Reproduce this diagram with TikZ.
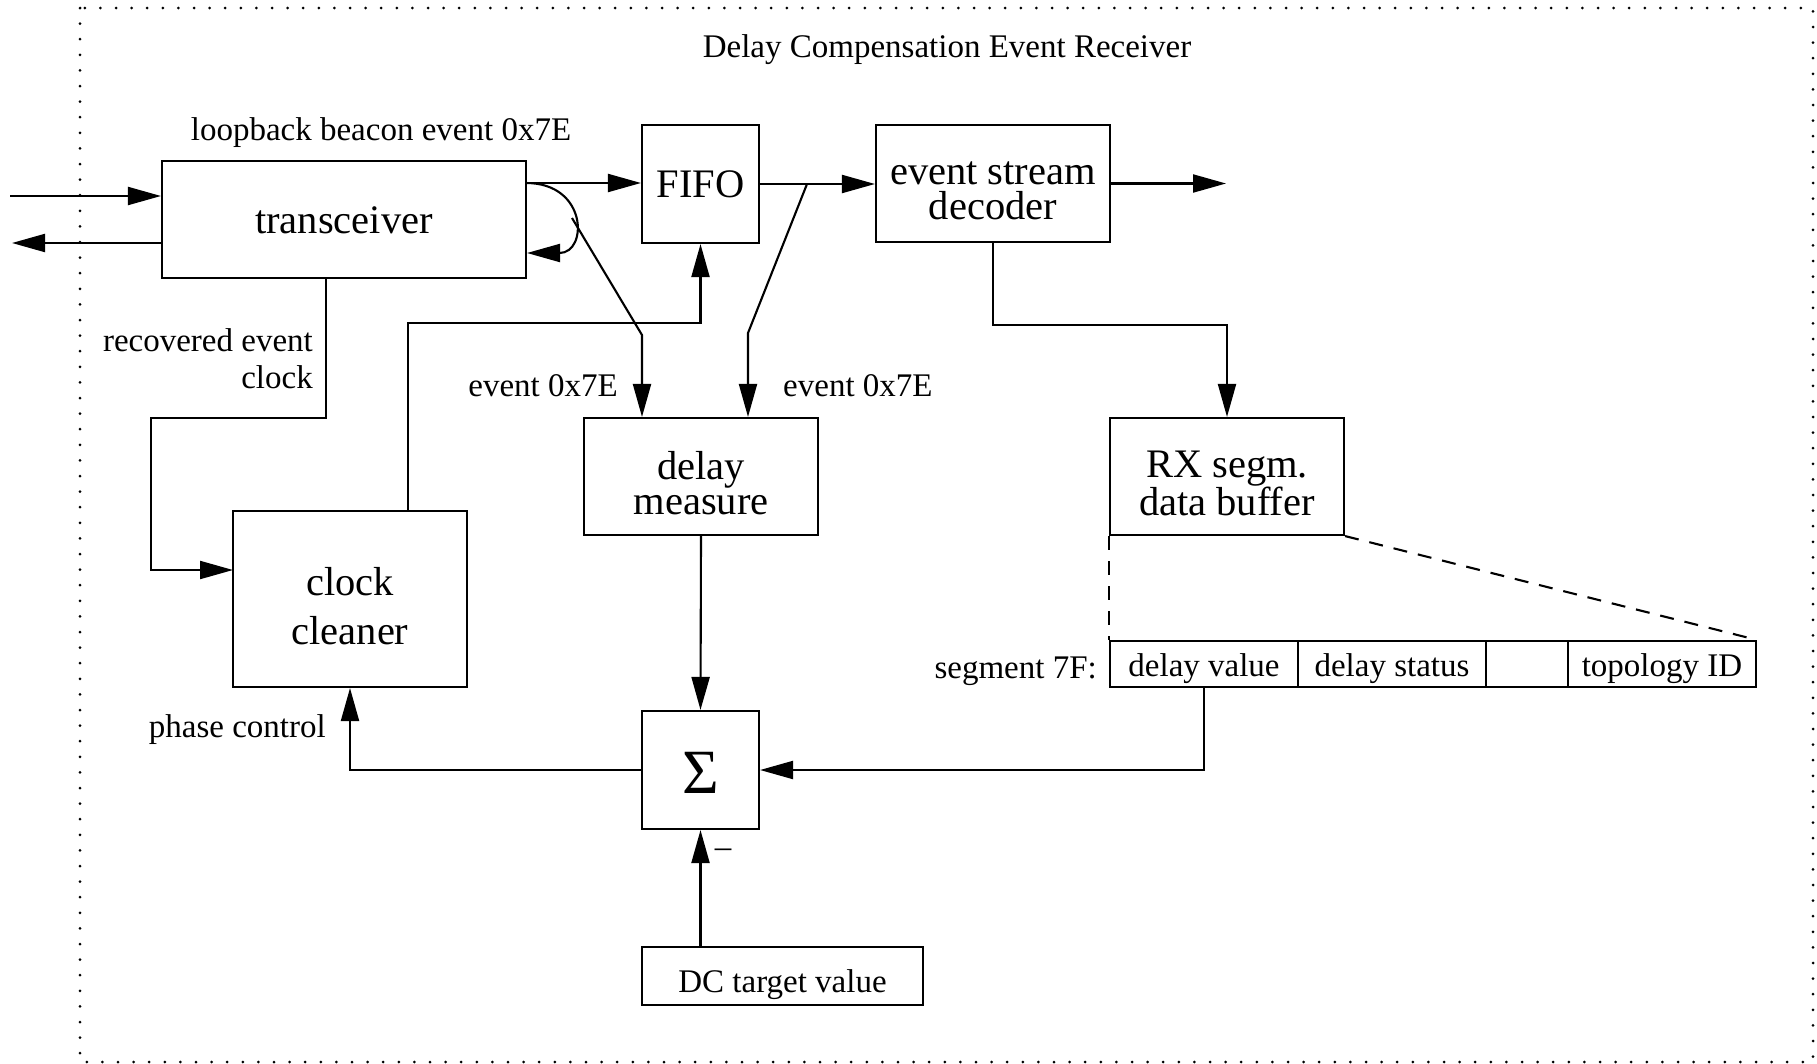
\documentclass[tikz,border=0pt]{standalone}
\usepackage{fontspec}
\setmainfont{Liberation Serif}
\usetikzlibrary{arrows.meta,calc}
\newcommand\fntL{\fontsize{40.5}{35}\selectfont}
\newcommand\fntS{\fontsize{33}{37}\selectfont}
\begin{document}
\begin{tikzpicture}[x=1pt,y=-1pt,
  box/.style={draw,line width=2.1pt,inner sep=0pt},
  txt/.style={font=\fntL,align=center,inner sep=0pt},
  stxt/.style={font=\fntS,align=center,inner sep=0pt},
  cell/.style={box,minimum height=46pt},
  lbl/.style={font=\fntS,inner sep=0pt},
  arr/.style={line width=2.1pt,-{Triangle[length=33pt,width=18pt]}},
  dsh/.style={line width=2.1pt,dash pattern=on 14pt off 11pt},
]
\useasboundingbox (0,0) rectangle (1817,1063);
\draw[line width=3pt,line cap=round,dash pattern=on 0pt off 15.6pt] (80,8) rectangle (1813,1062);

% nodes
\node[box,minimum width=364pt,minimum height=117pt,
  label={[txt,yshift=-1pt]center:transceiver}] (trx) at (344,219.5) {};
\node[box,minimum width=117pt,minimum height=118pt,
  label={[txt]center:FIFO}] (fifo) at (700.5,184) {};
\node[box,minimum width=234pt,minimum height=117pt,
  label={[txt,yshift=-7pt]center:{event stream\\decoder}}] (esd) at (993,183.5) {};
\node[box,minimum width=234pt,minimum height=117pt,
  label={[txt,yshift=-7pt]center:{delay\\measure}}] (dm) at (701,476.5) {};
\node[box,minimum width=234pt,minimum height=117pt,
  label={[txt,yshift=-7pt]center:{RX segm.\\data buffer}}] (rx) at (1227,476.5) {};
\node[box,minimum width=234pt,minimum height=176pt,
  label={[txt,font={\fontsize{40.5}{49}\selectfont},yshift=-7pt]center:{clock\\cleaner}}] (cc) at (350,599) {};
\node[box,minimum width=117pt,minimum height=118pt,
  label={[txt,font={\fontsize{63}{63}\selectfont},yshift=-3pt]center:Σ}] (sig) at (700.5,770) {};
\node[box,minimum width=281pt,minimum height=58pt,
  label={[stxt,yshift=-9pt]center:DC target value}] (dc) at (782.5,976) {};

\node[cell,minimum width=188pt,label={[stxt,yshift=-5pt]center:delay value}] (c1) at (1204,664) {};
\node[cell,minimum width=188pt,label={[stxt,yshift=-5pt]center:delay status}] (c2) at (1392,664) {};
\node[cell,minimum width=82pt] (c3) at (1527,664) {};
\node[cell,minimum width=188pt,label={[stxt,yshift=-5pt]center:topology ID}] (c4) at (1662,664) {};

% labels
\node[lbl] (title) at (947,50) {Delay Compensation Event Receiver};
\node[lbl] (loop) at (381,133) {loopback beacon event 0x7E};
\node[lbl,anchor=east,align=right] (rec) at (313,359) {recovered event\\clock};
\node[lbl,anchor=east] (ev1) at (618,386) {event 0x7E};
\node[lbl,anchor=west] (ev2) at (783,386) {event 0x7E};
\node[lbl,anchor=east] (phc) at (326,730) {phase control};
\node[lbl,anchor=east] (seg) at (1097,671) {segment 7F:};
\node[lbl] (minus) at (723,853) {–};

% coordinates
\coordinate (inL) at (10,196);
\coordinate (outL) at (12,243);
\coordinate (t1) at (526,183);
\coordinate (t2) at (527,253);
\coordinate (lb) at (572,218);
\coordinate (k1) at (642,335);
\coordinate (tap) at (807,184);
\coordinate (k2) at (748,333);
\coordinate (eo) at (1226,183.5);
\coordinate (rc1) at (151,418);
\coordinate (cin) at (233,570);

% connectors
\draw[arr] (inL) -- (inL -| trx.west);
\draw[arr] (outL -| trx.west) -- (outL);
\draw[arr] (t1) -- (t1 -| fifo.west);
\draw[arr] (t1) .. controls (588,183) and (588,253) .. (t2);
\draw[arr] (lb) -- (k1) -- (k1 |- dm.north);
\draw[arr] (fifo.east) -- (fifo.east -| esd.west);
\draw[arr] (tap) -- (k2) -- (k2 |- dm.north);
\draw[arr] (esd.east) -- (eo);
\draw[arr] (esd.south) -- ++(0,82) -| (rx.north);
\draw[arr] ([xshift=-18pt]trx.south) |- (rc1) |- (cin);
\draw[arr] ([xshift=58pt]cc.north) -- ++(0,-187) -| (fifo.south);
\draw[arr] (dm.south) -- (sig.north);
\draw[arr] (sig.south |- dc.north) -- (sig.south);
\draw[arr] (sig.west) -| (cc.south);
\draw[arr] (c1.south) |- (sig.east);
\draw[dsh] (rx.south west) -- (c1.north west);
\draw[dsh] (rx.south east) -- (c4.north east);
\end{tikzpicture}
\end{document}
